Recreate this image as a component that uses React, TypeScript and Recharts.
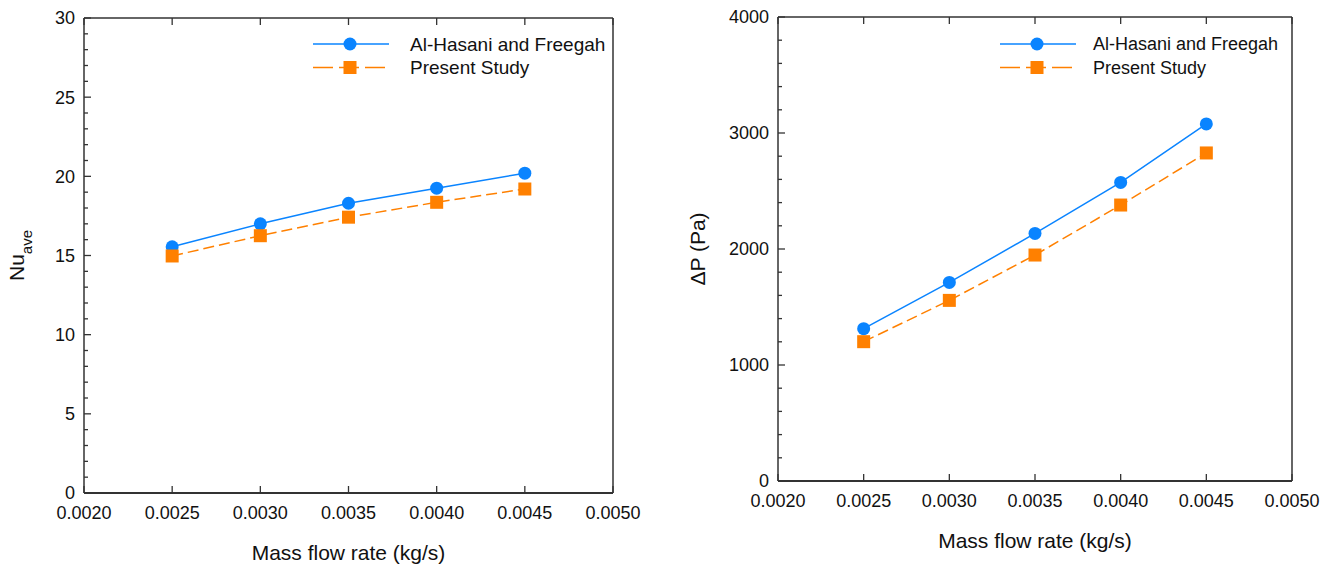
import React from "react";
import { LineChart, Line, XAxis, YAxis, Legend } from "recharts";

// mass flow rate (kg/s), shared by both panels
const massFlow = [0.0025, 0.003, 0.0035, 0.004, 0.0045];
const xTicks = [0.002, 0.0025, 0.003, 0.0035, 0.004, 0.0045, 0.005];

// left panel: average Nusselt number
const nuHasani = [15.55, 17.0, 18.3, 19.25, 20.2];
const nuPresent = [14.97, 16.25, 17.42, 18.36, 19.2];
const nuMajor = [0, 5, 10, 15, 20, 25, 30];
const nuMinor = Array.from({ length: 31 }, (_, i) => i);

// right panel: pressure drop (Pa)
const dpHasani = [1313, 1712, 2134, 2574, 3078];
const dpPresent = [1201, 1557, 1948, 2379, 2828];
const dpMajor = [0, 1000, 2000, 3000, 4000];
const dpMinor = Array.from({ length: 21 }, (_, i) => i * 200);

const seriesNames = ["Al-Hasani and Freegah", "Present Study"];

const FONT = "'Liberation Sans', Arial, Helvetica, sans-serif";
const AXIS = "#333";
const TEXT = "#111";
const BLUE = "#0a84ff";
const ORANGE = "#ff8000";

const nuData = massFlow.map((m, i) => ({ m, hasani: nuHasani[i], present: nuPresent[i] }));
const dpData = massFlow.map((m, i) => ({ m, hasani: dpHasani[i], present: dpPresent[i] }));

const leftTick = (majors: number[]) => (props: any) => {
  const { x, y, payload } = props;
  const major = majors.includes(payload.value);
  return (
    <g>
      <line x1={x} y1={y} x2={x + (major ? 7 : 4)} y2={y} stroke={AXIS} strokeWidth={1.3} />
      {major && (
        <text x={x - 9} y={y} dy="0.36em" textAnchor="end" fontFamily={FONT} fontSize={18} fill={TEXT}>
          {payload.value}
        </text>
      )}
    </g>
  );
};

const rightTick = (majors: number[]) => (props: any) => {
  const { x, y, payload } = props;
  const major = majors.includes(payload.value);
  return <line x1={x} y1={y} x2={x - (major ? 7 : 4)} y2={y} stroke={AXIS} strokeWidth={1.3} />;
};

const bottomTick = (props: any) => {
  const { x, y, payload } = props;
  return (
    <g>
      <line x1={x} y1={y} x2={x} y2={y - 7} stroke={AXIS} strokeWidth={1.3} />
      <text x={x} y={y + 20} dy="0.36em" textAnchor="middle" fontFamily={FONT} fontSize={18} fill={TEXT}>
        {Number(payload.value).toFixed(4)}
      </text>
    </g>
  );
};

const topTick = (props: any) => {
  const { x, y } = props;
  return <line x1={x} y1={y} x2={x} y2={y + 7} stroke={AXIS} strokeWidth={1.3} />;
};

const XTitle = ({ viewBox }: any) => (
  <text
    x={viewBox.x + viewBox.width / 2}
    y={viewBox.y + 67}
    textAnchor="middle"
    fontFamily={FONT}
    fontSize={21}
    fill={TEXT}
  >
    Mass flow rate (kg/s)
  </text>
);

const NuTitle = ({ viewBox }: any) => {
  const cx = viewBox.x + 24;
  const cy = viewBox.y + viewBox.height / 2;
  return (
    <text
      x={cx}
      y={cy}
      transform={`rotate(-90 ${cx} ${cy})`}
      textAnchor="middle"
      fontFamily={FONT}
      fontSize={21}
      fill={TEXT}
    >
      Nu
      <tspan dy={8} fontSize={15}>
        ave
      </tspan>
    </text>
  );
};

const DpTitle = ({ viewBox }: any) => {
  const cx = viewBox.x + 45;
  const cy = viewBox.y + viewBox.height / 2;
  return (
    <text
      x={cx}
      y={cy}
      transform={`rotate(-90 ${cx} ${cy})`}
      textAnchor="middle"
      fontFamily={FONT}
      fontSize={21}
      fill={TEXT}
    >
      ΔP (Pa)
    </text>
  );
};

const circleDot = (p: any) => <circle key={`c${p.index}`} cx={p.cx} cy={p.cy} r={6.5} fill={BLUE} />;
const squareDot = (p: any) => (
  <rect key={`s${p.index}`} x={p.cx - 6.5} y={p.cy - 6.5} width={13} height={13} fill={ORANGE} />
);

const legendBox = (fontSize: number, textX: number) => () => (
  <svg width={300} height={50} style={{ display: "block" }}>
    <line x1={0} y1={12} x2={76} y2={12} stroke={BLUE} strokeWidth={1.5} />
    <circle cx={37} cy={12} r={6.5} fill={BLUE} />
    <text x={textX} y={12} dy="0.36em" fontFamily={FONT} fontSize={fontSize} fill={TEXT}>
      {seriesNames[0]}
    </text>
    <line x1={0} y1={35.5} x2={76} y2={35.5} stroke={ORANGE} strokeWidth={1.5} strokeDasharray="20 6" />
    <rect x={30.5} y={29} width={13} height={13} fill={ORANGE} />
    <text x={textX} y={35.5} dy="0.36em" fontFamily={FONT} fontSize={fontSize} fill={TEXT}>
      {seriesNames[1]}
    </text>
  </svg>
);

function Panel({
  data,
  width,
  margin,
  yWidth,
  xHeight,
  domain,
  majors,
  minors,
  title,
  legendPos,
  legendFont,
  legendTextX,
}: any) {
  return (
    <LineChart width={width} height={565} data={data} margin={margin}>
      <XAxis
        dataKey="m"
        type="number"
        domain={[0.002, 0.005]}
        ticks={xTicks}
        interval={0}
        height={xHeight}
        tickSize={0}
        tickMargin={0}
        tickLine={false}
        tick={bottomTick}
        axisLine={{ stroke: AXIS, strokeWidth: 2 }}
        label={{ content: XTitle }}
      />
      <XAxis
        xAxisId="top"
        orientation="top"
        dataKey="m"
        type="number"
        domain={[0.002, 0.005]}
        ticks={xTicks}
        interval={0}
        height={1}
        tickSize={0}
        tickMargin={0}
        tickLine={false}
        tick={topTick}
        axisLine={{ stroke: AXIS, strokeWidth: 1.5 }}
      />
      <YAxis
        type="number"
        domain={domain}
        ticks={minors}
        interval={0}
        width={yWidth}
        tickSize={0}
        tickMargin={0}
        tickLine={false}
        tick={leftTick(majors)}
        axisLine={{ stroke: AXIS, strokeWidth: 1.5 }}
        label={{ content: title }}
      />
      <YAxis
        yAxisId="right"
        orientation="right"
        type="number"
        domain={domain}
        ticks={minors}
        interval={0}
        width={1}
        tickSize={0}
        tickMargin={0}
        tickLine={false}
        tick={rightTick(majors)}
        axisLine={{ stroke: AXIS, strokeWidth: 1.5 }}
      />
      <Legend
        layout="vertical"
        verticalAlign="middle"
        align="center"
        wrapperStyle={{ left: legendPos[0], top: legendPos[1], width: 300, height: 50 }}
        content={legendBox(legendFont, legendTextX)}
      />
      <Line
        dataKey="hasani"
        name={seriesNames[0]}
        type="linear"
        stroke={BLUE}
        strokeWidth={1.5}
        dot={circleDot}
        activeDot={false}
        isAnimationActive={false}
      />
      <Line
        dataKey="present"
        name={seriesNames[1]}
        type="linear"
        stroke={ORANGE}
        strokeWidth={1.5}
        strokeDasharray="11 5"
        dot={squareDot}
        activeDot={false}
        isAnimationActive={false}
      />
    </LineChart>
  );
}

export default function App() {
  return (
    <div
      style={{
        position: "absolute",
        left: 0,
        top: 0,
        width: 1335,
        height: 565,
        background: "#fff",
        fontFamily: FONT,
      }}
    >
      <div style={{ position: "absolute", left: 0, top: 0 }}>
        <Panel
          data={nuData}
          width={660}
          margin={{ top: 17, right: 46, bottom: 0, left: 0 }}
          yWidth={84}
          xHeight={72}
          domain={[0, 30]}
          majors={nuMajor}
          minors={nuMinor}
          title={NuTitle}
          legendPos={[313, 32]}
          legendFont={19}
          legendTextX={97}
        />
      </div>
      <div style={{ position: "absolute", left: 660, top: 0 }}>
        <Panel
          data={dpData}
          width={675}
          margin={{ top: 16, right: 42, bottom: 0, left: 0 }}
          yWidth={118}
          xHeight={84}
          domain={[0, 4000]}
          majors={dpMajor}
          minors={dpMinor}
          title={DpTitle}
          legendPos={[340, 32]}
          legendFont={18}
          legendTextX={93}
        />
      </div>
    </div>
  );
}
